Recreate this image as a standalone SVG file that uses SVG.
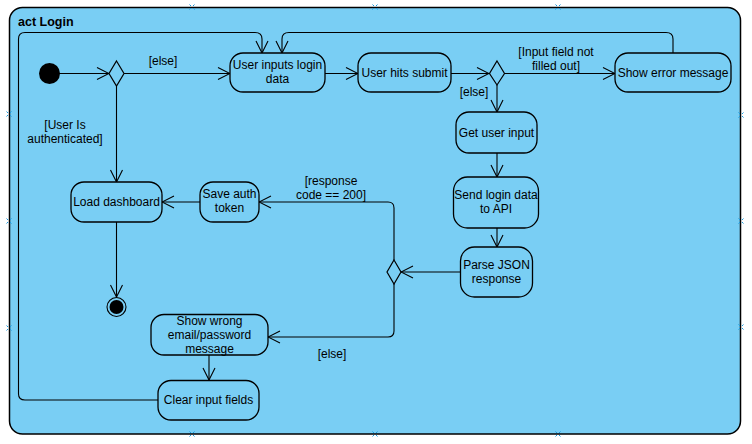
<svg xmlns="http://www.w3.org/2000/svg" width="752" height="444" viewBox="0 0 752 444">
  <defs>
    <marker id="open" viewBox="0 0 14 14" refX="13" refY="7" markerWidth="14" markerHeight="14" markerUnits="userSpaceOnUse" orient="auto">
      <path d="M1,1 L13,7 L1,13" fill="none" stroke="#000" stroke-width="1.1"/>
    </marker>
    <g id="pin">
      <path d="M-2.5,-2.5 L-1,-1 M2.5,-2.5 L1,-1 M-2.5,2.5 L-1,1 M2.5,2.5 L1,1" stroke="#1a9be0" stroke-width="1"/>
    </g>
  </defs>
  <style>
    .act { fill: #79cef4; stroke: #000; stroke-width: 1.3; }
    .dec { fill: #79cef4; stroke: #000; stroke-width: 1.2; }
    .lbl { font-family: "Liberation Sans", Arial, sans-serif; font-size: 12px; fill: #000; text-anchor: middle; }
    .guard { font-family: "Liberation Sans", Arial, sans-serif; font-size: 12px; fill: #000; text-anchor: middle; }
    .edge { fill: none; stroke: #000; stroke-width: 1.1; marker-end: url(#open); }
  </style>

  <rect width="752" height="444" fill="#ffffff"/>

  <!-- activity frame -->
  <g id="frame">
    <rect x="9.5" y="7.5" width="731" height="426.5" rx="13" ry="13" fill="#79cef4" stroke="#000" stroke-width="1.5"/>
    <text x="18" y="26" font-family="Liberation Sans, Arial, sans-serif" font-size="12.5" font-weight="bold">act Login</text>
    <use href="#pin" x="192" y="7"/>
    <use href="#pin" x="375" y="7"/>
    <use href="#pin" x="558" y="7"/>
    <use href="#pin" x="192" y="434"/>
    <use href="#pin" x="375" y="434"/>
    <use href="#pin" x="558" y="434"/>
    <use href="#pin" x="9" y="114"/>
    <use href="#pin" x="9" y="221"/>
    <use href="#pin" x="9" y="328"/>
    <use href="#pin" x="741" y="115"/>
    <use href="#pin" x="741" y="221"/>
    <use href="#pin" x="741" y="327"/>
  </g>

  <!-- connectors -->
  <g id="connectors">
    <path class="edge" d="M59,73.5 H109"/>
    <path class="edge" d="M124,73.5 H230"/>
    <path class="edge" d="M116.5,86 V182"/>
    <path class="edge" d="M325,73.5 H358"/>
    <path class="edge" d="M451,73.5 H489"/>
    <path class="edge" d="M505,73.5 H615"/>
    <path class="edge" d="M497,85 V112"/>
    <path class="edge" d="M673,53 V39 Q673,32.5 666,32.5 H289 Q282,32.5 282,39 V53"/>
    <path class="edge" d="M497,153 V177"/>
    <path class="edge" d="M497,228 V247"/>
    <path class="edge" d="M460,272 H401"/>
    <path class="edge" d="M394,260 V208 Q394,202 388,202 H259"/>
    <path class="edge" d="M200,202 H162"/>
    <path class="edge" d="M116.5,222 V297"/>
    <path class="edge" d="M394,284 V331 Q394,337 388,337 H268"/>
    <path class="edge" d="M209,355 V380"/>
    <path class="edge" d="M158,400 H25 Q18.5,400 18.5,394 V39 Q18.5,32.5 25,32.5 H255 Q262,32.5 262,39 V53"/>

    <text class="guard" x="163" y="65">[else]</text>
    <text class="guard" x="65" y="129">[User Is</text>
    <text class="guard" x="65" y="143">authenticated]</text>
    <text class="guard" x="556" y="56">[Input field not</text>
    <text class="guard" x="556" y="70">filled out]</text>
    <text class="guard" x="474" y="96">[else]</text>
    <text class="guard" x="331" y="185">[response</text>
    <text class="guard" x="331" y="199">code == 200]</text>
    <text class="guard" x="332" y="358">[else]</text>
  </g>

  <!-- nodes -->
  <g id="initial">
    <circle cx="49.5" cy="73.5" r="10.5" fill="#000"/>
  </g>
  <g id="decision-auth">
    <path class="dec" d="M116.5,61 L124,73.5 L116.5,86 L109,73.5 Z"/>
  </g>
  <g id="user-inputs">
    <rect class="act" x="230" y="53" width="95" height="39" rx="13"/>
    <text class="lbl" x="277.5" y="69">User inputs login</text>
    <text class="lbl" x="277.5" y="83">data</text>
  </g>
  <g id="user-hits-submit">
    <rect class="act" x="358" y="53" width="93" height="39" rx="13"/>
    <text class="lbl" x="404.5" y="77">User hits submit</text>
  </g>
  <g id="decision-input">
    <path class="dec" d="M497,61 L504.5,73.5 L497,85 L489.5,73.5 Z"/>
  </g>
  <g id="show-error">
    <rect class="act" x="615" y="53" width="116" height="39" rx="13"/>
    <text class="lbl" x="673" y="77">Show error message</text>
  </g>
  <g id="get-user-input">
    <rect class="act" x="456" y="112" width="81" height="41" rx="13"/>
    <text class="lbl" x="496.5" y="137">Get user input</text>
  </g>
  <g id="send-login">
    <rect class="act" x="453.5" y="177" width="85" height="51" rx="14"/>
    <text class="lbl" x="496" y="199">Send login data</text>
    <text class="lbl" x="496" y="213">to API</text>
  </g>
  <g id="parse-json">
    <rect class="act" x="460.5" y="247" width="72" height="50" rx="14"/>
    <text class="lbl" x="496.5" y="269">Parse JSON</text>
    <text class="lbl" x="496.5" y="283">response</text>
  </g>
  <g id="decision-response">
    <path class="dec" d="M394,260 L401,272 L394,284 L387,272 Z"/>
  </g>
  <g id="save-token">
    <rect class="act" x="200" y="182" width="59" height="40" rx="13"/>
    <text class="lbl" x="229.5" y="198">Save auth</text>
    <text class="lbl" x="229.5" y="212">token</text>
  </g>
  <g id="load-dashboard">
    <rect class="act" x="71" y="182" width="91" height="40" rx="13"/>
    <text class="lbl" x="116.5" y="206">Load dashboard</text>
  </g>
  <g id="final">
    <circle cx="116.5" cy="307" r="9.5" fill="#79cef4" stroke="#000" stroke-width="1.1"/>
    <circle cx="116.5" cy="307" r="7" fill="#000"/>
  </g>
  <g id="show-wrong">
    <rect class="act" x="151" y="314.5" width="117" height="40.5" rx="13"/>
    <text class="lbl" x="209.5" y="325">Show wrong</text>
    <text class="lbl" x="209.5" y="339">email/password</text>
    <text class="lbl" x="209.5" y="353">message</text>
  </g>
  <g id="clear-fields">
    <rect class="act" x="158" y="380.5" width="101" height="39.5" rx="13"/>
    <text class="lbl" x="208.5" y="404">Clear input fields</text>
  </g>
</svg>
